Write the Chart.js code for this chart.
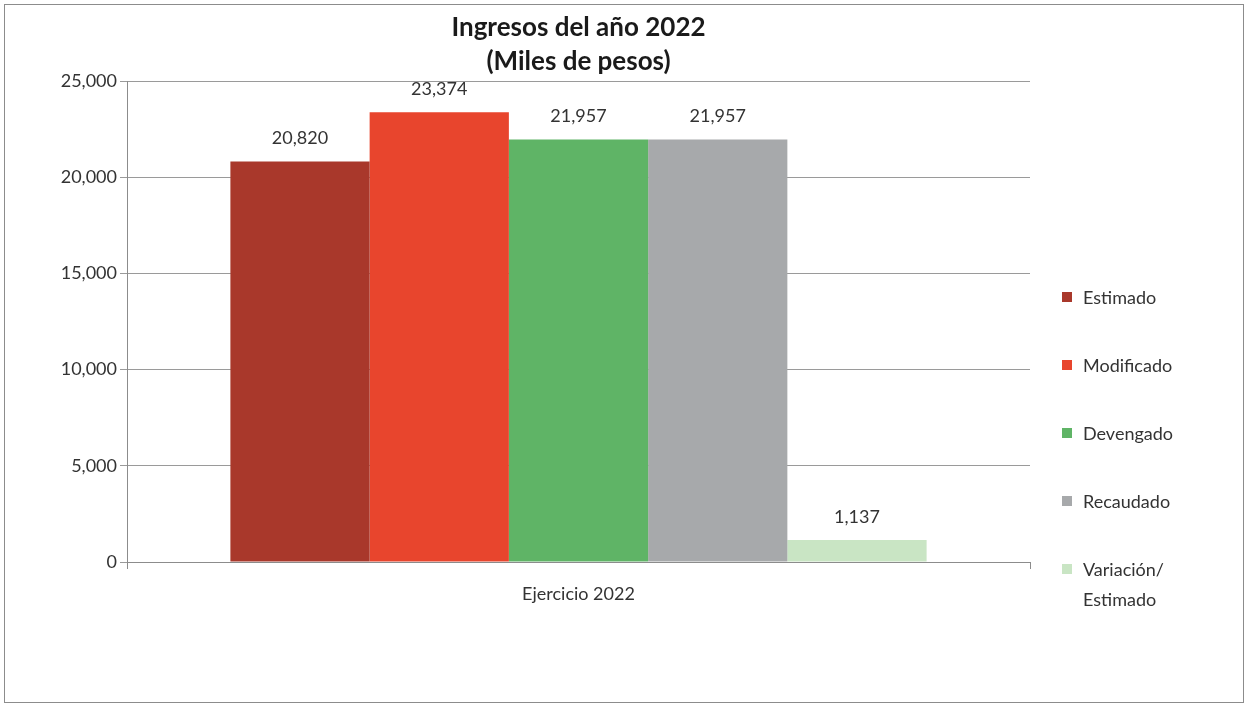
<!DOCTYPE html>
<html>
<head>
<meta charset="utf-8">
<script src="https://cdn.jsdelivr.net/npm/chart.js@4"></script>
<style>
  body { margin: 0; background: #fff; }
  #frame { position: absolute; left: 4px; top: 4px; width: 1240px; height: 699px; border: 1px solid #8c8c8c; box-sizing: border-box; }
  #wrap { position: absolute; left: 0; top: 0; width: 1247px; height: 704px; }
  #legend { position: absolute; left: 1062px; top: 282px; font-family: 'Liberation Sans Narrow', 'Lato', sans-serif; font-size: 18px; color: #333; }
  .item { display: flex; align-items: flex-start; margin-bottom: 38px; }
  .box { width: 10px; height: 10px; margin-top: 10px; margin-right: 11px; flex: none; }
  .txt { line-height: 30px; white-space: pre-line; }
</style>
</head>
<body>
<div id="frame"></div>
<div id="wrap"><canvas id="chart" width="1247" height="704"></canvas></div>
<div id="legend"></div>
<script>
// --- Daten ---
const categories = ["Ejercicio 2022"];
const seriesLabels = ["Estimado", "Modificado", "Devengado", "Recaudado", "Variación/\nEstimado"];
const seriesValues = [20820, 23374, 21957, 21957, 1137];
const seriesColors = ["#a9382b", "#e8452d", "#5fb466", "#a7a9ab", "#c9e5c4"];
const yTicks = [0, 5000, 10000, 15000, 20000, 25000];

const fontFamily = "'Liberation Sans Narrow', 'Lato', sans-serif";
const fmt = (v) => v.toLocaleString("en-US");

// Werte über den Balken
const valueLabels = {
    id: "valueLabels",
    afterDatasetsDraw(chart) {
        const ctx = chart.ctx;
        ctx.save();
        ctx.font = "18px " + fontFamily;
        ctx.fillStyle = "#333";
        ctx.textAlign = "center";
        ctx.textBaseline = "middle";
        chart.data.datasets.forEach((ds, i) => {
            const meta = chart.getDatasetMeta(i);
            meta.data.forEach((bar, j) => {
                ctx.fillText(fmt(ds.data[j]), bar.x, bar.y - 23);
            });
        });
        ctx.restore();
    },
};

const ctx = document.getElementById("chart").getContext("2d");

const chart = new Chart(ctx, {
    type: "bar",
    data: {
        labels: categories,
        datasets: seriesLabels.map((label, i) => ({
            label: label,
            data: [seriesValues[i]],
            backgroundColor: seriesColors[i],
        })),
    },
    options: {
        responsive: false,
        animation: false,
        layout: { padding: { left: 0, right: 217, top: 0, bottom: 0 } },
        datasets: { bar: { categoryPercentage: 0.771, barPercentage: 1.0 } },
        plugins: {
            title: {
                display: true,
                fullSize: false,
                text: ["Ingresos del año 2022", "(Miles de pesos)"],
                color: "#1a1a1a",
                font: { family: fontFamily, size: 26, weight: "bold", lineHeight: 34 / 26 },
                padding: { top: 11, bottom: 2 },
            },
            legend: { display: false },
            tooltip: { enabled: false },
        },
        scales: {
            x: {
                grid: { display: true, drawOnChartArea: false, tickLength: 7, color: "#8c8c8c" },
                border: { color: "#8c8c8c" },
                ticks: { color: "#333", padding: 14, font: { family: fontFamily, size: 18 } },
                afterFit: (s) => { s.height = 142; },
            },
            y: {
                min: 0,
                max: 25000,
                afterBuildTicks: (s) => { s.ticks = yTicks.map((v) => ({ value: v })); },
                grid: { color: "#9a9a9a", tickLength: 7 },
                border: { color: "#8c8c8c" },
                ticks: { color: "#333", padding: 3, font: { family: fontFamily, size: 18 }, callback: (v) => fmt(v) },
                afterFit: (s) => { s.width = 127; },
            },
        },
    },
    plugins: [valueLabels],
});

// --- Legende ---
const legendEl = document.getElementById("legend");
chart.data.datasets.forEach((ds) => {
    const item = document.createElement("div");
    item.className = "item";
    const box = document.createElement("span");
    box.className = "box";
    box.style.background = ds.backgroundColor;
    const txt = document.createElement("span");
    txt.className = "txt";
    txt.textContent = ds.label;
    item.appendChild(box);
    item.appendChild(txt);
    legendEl.appendChild(item);
});
</script>
</body>
</html>
